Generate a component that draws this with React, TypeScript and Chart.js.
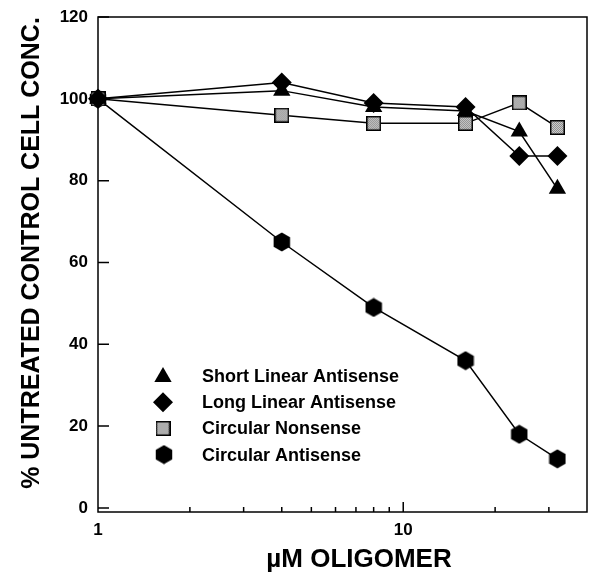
import { useEffect, useRef } from 'react';
import { Chart, registerables } from 'chart.js';

Chart.register(...registerables);

const doses = [1, 4, 8, 16, 24, 32];
const shortLinear = [100, 102, 98, 97, 92, 78];
const longLinear = [100, 104, 99, 98, 86, 86];
const circularNonsense = [100, 96, 94, 94, 99, 93];
const circularAntisense = [100, 65, 49, 36, 18, 12];
const seriesNames = [
  'Short Linear Antisense',
  'Long Linear Antisense',
  'Circular Nonsense',
  'Circular Antisense',
];
const xLabelValues = [1, 10];
const xMinorTicks = [2, 3, 4, 5, 6, 7, 8, 9, 20, 30];
const xMajorTicks = [10];
const yTickValues = [0, 20, 40, 60, 80, 100, 120];
const xTitle = 'µM OLIGOMER';
const yTitle = '% UNTREATED CONTROL CELL CONC.';

const FONT = '"Liberation Sans", Arial, Helvetica, sans-serif';

function makeHexagon(): HTMLCanvasElement {
  const c = document.createElement('canvas');
  c.width = 18;
  c.height = 20;
  const g = c.getContext('2d')!;
  const r = 9.5;
  g.beginPath();
  for (let i = 0; i < 6; i++) {
    const a = -Math.PI / 2 + (i * Math.PI) / 3;
    const px = 9 + r * Math.cos(a);
    const py = 10 + r * Math.sin(a);
    if (i === 0) g.moveTo(px, py);
    else g.lineTo(px, py);
  }
  g.closePath();
  g.fillStyle = '#000';
  g.fill();
  return c;
}

function makeSquare(): HTMLCanvasElement {
  const c = document.createElement('canvas');
  c.width = 15;
  c.height = 15;
  const g = c.getContext('2d')!;
  for (let i = 0; i < 15; i++) {
    for (let j = 0; j < 15; j++) {
      g.fillStyle = (i + j) % 2 === 0 ? '#8a8a8a' : '#d0d0d0';
      g.fillRect(i, j, 1, 1);
    }
  }
  g.strokeStyle = '#000';
  g.lineWidth = 1.5;
  g.strokeRect(0.75, 0.75, 13.5, 13.5);
  return c;
}

export default function App() {
  const ref = useRef<HTMLCanvasElement | null>(null);

  useEffect(() => {
    document.body.style.margin = '0';
    const canvas = ref.current!;
    const hex = makeHexagon();
    const sq = makeSquare();

    const drawMarker = (ctx: CanvasRenderingContext2D, kind: number, x: number, y: number) => {
      ctx.save();
      ctx.fillStyle = '#000';
      if (kind === 0) {
        const r = 10;
        ctx.beginPath();
        for (let i = 0; i < 3; i++) {
          const a = (i * 2 * Math.PI) / 3;
          const px = x + Math.sin(a) * r;
          const py = y - Math.cos(a) * r;
          if (i === 0) ctx.moveTo(px, py);
          else ctx.lineTo(px, py);
        }
        ctx.closePath();
        ctx.fill();
      } else if (kind === 1) {
        const r = 10;
        ctx.beginPath();
        ctx.moveTo(x, y - r);
        ctx.lineTo(x + r, y);
        ctx.lineTo(x, y + r);
        ctx.lineTo(x - r, y);
        ctx.closePath();
        ctx.fill();
      } else if (kind === 2) {
        ctx.drawImage(sq, x - sq.width / 2, y - sq.height / 2);
      } else {
        ctx.drawImage(hex, x - hex.width / 2, y - hex.height / 2);
      }
      ctx.restore();
    };

    const decorPlugin = {
      id: 'decor',
      afterDraw(chart: any) {
        const { ctx, chartArea: a, scales } = chart;
        const xs = scales.x;
        const ys = scales.y;
        ctx.save();
        ctx.strokeStyle = '#000';
        ctx.lineWidth = 1.5;
        ctx.strokeRect(a.left, a.top, a.right - a.left, a.bottom - a.top);
        ctx.beginPath();
        xMinorTicks.forEach((v) => {
          const px = xs.getPixelForValue(v);
          ctx.moveTo(px, a.bottom);
          ctx.lineTo(px, a.bottom - 5);
        });
        xMajorTicks.forEach((v) => {
          const px = xs.getPixelForValue(v);
          ctx.moveTo(px, a.bottom);
          ctx.lineTo(px, a.bottom - 10);
        });
        yTickValues.forEach((v) => {
          const py = ys.getPixelForValue(v);
          ctx.moveTo(a.left, py);
          ctx.lineTo(a.left + 11, py);
        });
        ctx.stroke();

        // legend
        ctx.fillStyle = '#000';
        ctx.font = `bold 18px ${FONT}`;
        ctx.textAlign = 'left';
        ctx.textBaseline = 'middle';
        seriesNames.forEach((name, i) => {
          const my = 376 + i * 26.2;
          drawMarker(ctx, i, 163 + (i === 3 ? 1 : 0), my + (i === 0 ? 1 : 0));
          ctx.fillText(name, 202, my + 1);
        });

        // axis titles
        ctx.font = `bold 26px ${FONT}`;
        ctx.textAlign = 'center';
        ctx.fillText(xTitle, 359, 560);
        ctx.save();
        ctx.translate(32, 253);
        ctx.rotate(-Math.PI / 2);
        ctx.font = `bold 25px ${FONT}`;
        ctx.fillText(yTitle, 0, 0);
        ctx.restore();
        ctx.restore();
      },
    };

    const common = {
      borderColor: '#000',
      borderWidth: 1.5,
      backgroundColor: '#000',
      pointBorderWidth: 0,
      pointBorderColor: '#000',
      showLine: true,
      clip: false as any,
    };

    const toPts = (vals: number[]) => doses.map((d, i) => ({ x: d, y: vals[i] }));

    const chart = new Chart(canvas, {
      type: 'scatter',
      data: {
        datasets: [
          { ...common, label: seriesNames[0], data: toPts(shortLinear), pointStyle: 'triangle', pointRadius: 10 },
          { ...common, label: seriesNames[1], data: toPts(longLinear), pointStyle: 'rectRot', pointRadius: 10 },
          { ...common, label: seriesNames[2], data: toPts(circularNonsense), pointStyle: sq as any, pointRadius: 8 },
          { ...common, label: seriesNames[3], data: toPts(circularAntisense), pointStyle: hex as any, pointRadius: 9 },
        ],
      },
      options: {
        responsive: false,
        animation: false,
        devicePixelRatio: 1,
        layout: { autoPadding: false, padding: { left: 0, top: 17, right: 3, bottom: 0 } },
        plugins: {
          legend: { display: false },
          tooltip: { enabled: false },
        },
        scales: {
          x: {
            type: 'logarithmic',
            min: 1,
            max: 40,
            grid: { display: false, drawTicks: false },
            border: { display: false },
            afterFit: (s: any) => {
              s.height = 65;
              s.paddingLeft = 0;
              s.paddingRight = 0;
            },
            ticks: {
              autoSkip: false,
              maxRotation: 0,
              padding: 8,
              color: '#000',
              font: { family: FONT, size: 17, weight: 'bold' },
              callback: (v: any) => (xLabelValues.includes(Number(v)) ? String(v) : ''),
            },
          },
          y: {
            min: -1,
            max: 120,
            afterBuildTicks: (s: any) => {
              s.ticks = yTickValues.map((v) => ({ value: v }));
            },
            afterFit: (s: any) => {
              s.width = 98;
              s.paddingTop = 0;
              s.paddingBottom = 0;
            },
            grid: { display: false, drawTicks: false },
            border: { display: false },
            ticks: {
              padding: 10,
              color: '#000',
              font: { family: FONT, size: 17, weight: 'bold' },
            },
          },
        },
      },
      plugins: [decorPlugin],
    } as any);

    return () => chart.destroy();
  }, []);

  return (
    <div style={{ width: 590, height: 577, background: '#fff' }}>
      <canvas ref={ref} width={590} height={577} />
    </div>
  );
}
